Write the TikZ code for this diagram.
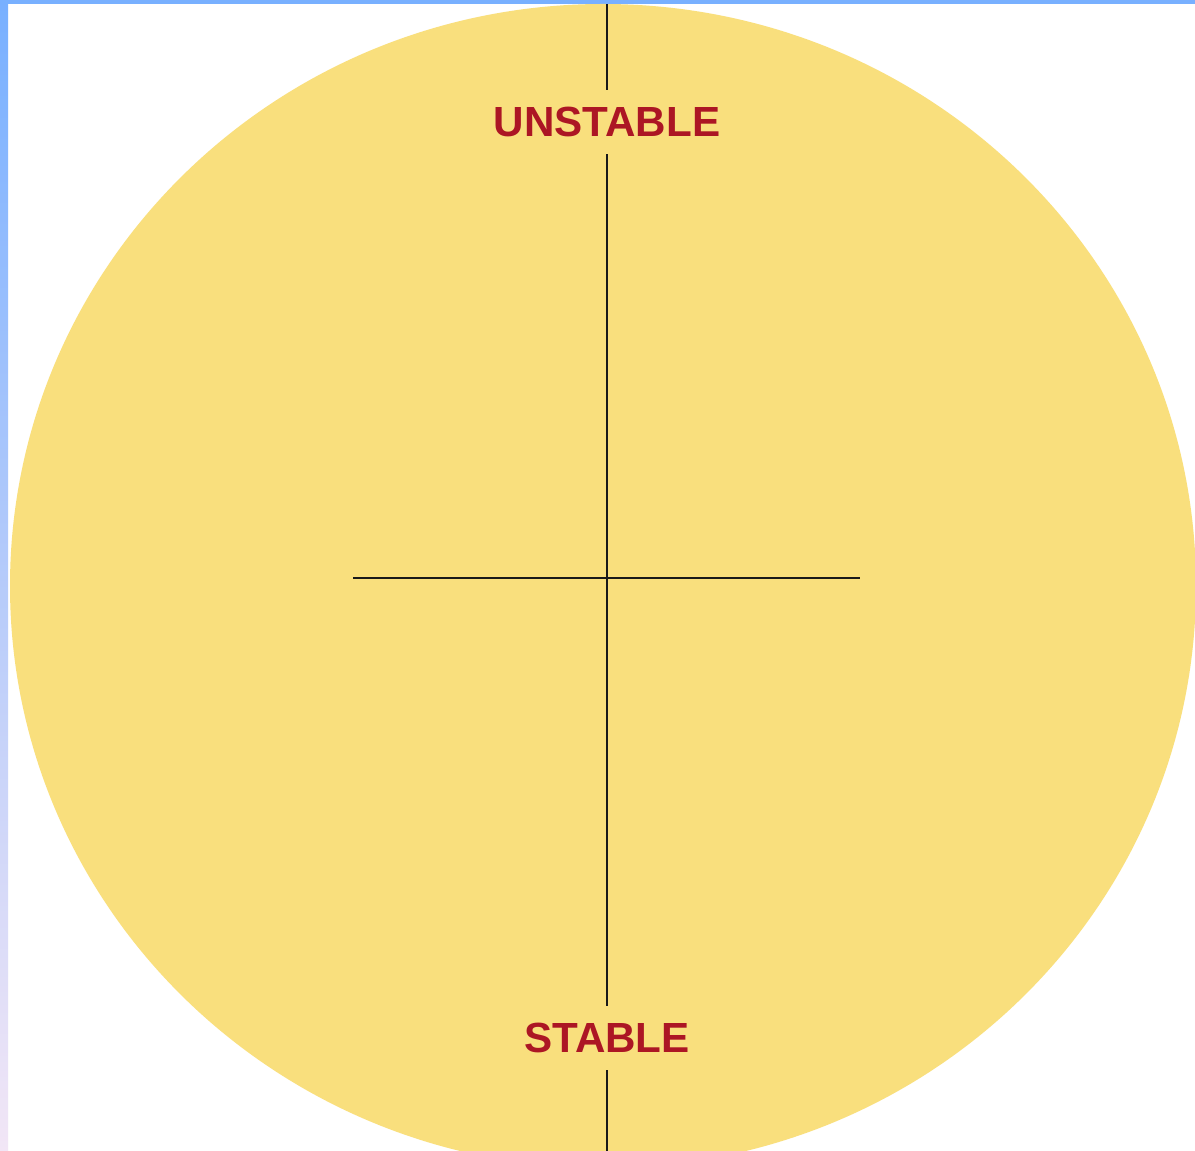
\documentclass[tikz,border=0pt]{standalone}
\usepackage{fontspec}
\setmainfont{Liberation Sans}
\usepackage{tikz}
\usetikzlibrary{positioning}

\definecolor{disc}{RGB}{249,223,125}
\definecolor{labelred}{RGB}{172,22,36}
\definecolor{edgeblue}{RGB}{120,176,255}
\definecolor{edgepink}{RGB}{242,230,246}

\begin{document}
\begin{tikzpicture}[x=0.02cm, y=-0.02cm]
    \tikzstyle{label} = [text=labelred, font=\fontsize{24}{28}\selectfont\bfseries, inner xsep=4pt, inner ysep=0.34cm]
    \tikzstyle{line} = [draw, line width=1.6pt, black!90]

    % page and frame
    \useasboundingbox (0,0) rectangle (1195,1151);
    \fill[white] (0,0) rectangle (1195,1151);
    \shade[top color=edgeblue, bottom color=edgepink] (0,0) rectangle (8,1151);
    \fill[edgeblue] (0,0) rectangle (1195,4);

    % the disc
    \begin{scope}
        \clip (8,4) rectangle (1195,1151);
        \fill[disc] (603,586) ellipse [x radius=593, y radius=582];
    \end{scope}

    \coordinate (top) at (607,4);
    \coordinate (bottom) at (607,1151);
    \coordinate (left) at (353,578);
    \coordinate (right) at (860,578);

    \node [label] (unstable) at (607,122) {UNSTABLE};
    \node [label] (stable) at (607,1038) {STABLE};

    \path [line] (top) -- (unstable);
    \path [line] (unstable) -- (stable);
    \path [line] (stable) -- (bottom);
    \path [line] (left) -- (right);
\end{tikzpicture}
\end{document}
